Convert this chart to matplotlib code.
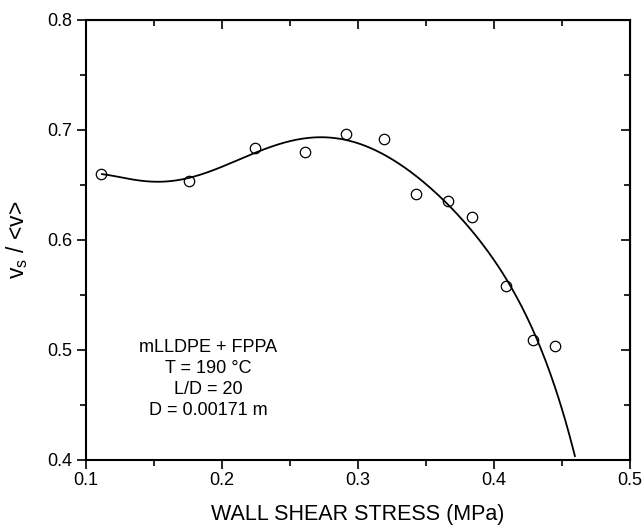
import numpy as np
import matplotlib.pyplot as plt
from matplotlib.ticker import MultipleLocator, FormatStrFormatter

plt.rcParams['font.family'] = ['Liberation Sans', 'DejaVu Sans']

stress = [0.111, 0.176, 0.224, 0.261, 0.291, 0.319, 0.343, 0.366, 0.384, 0.409, 0.429, 0.445]
vs_ratio = [0.660, 0.654, 0.684, 0.680, 0.696, 0.692, 0.642, 0.635, 0.621, 0.558, 0.509, 0.504]

# fitted curve
curve_x = [0.1118, 0.1368, 0.1588, 0.1760, 0.1980, 0.2250, 0.2471, 0.2721, 0.2917,
           0.3162, 0.3407, 0.3652, 0.3897, 0.4093, 0.4301, 0.4461, 0.4596]
curve_y = [0.6597, 0.6552, 0.6530, 0.6552, 0.6666, 0.6803, 0.6877, 0.6934, 0.6925,
           0.6788, 0.6575, 0.6348, 0.6045, 0.5591, 0.5121, 0.4666, 0.4018]

coef = np.polyfit(curve_x, curve_y, 7)
xfit = np.linspace(curve_x[0], curve_x[-1], 400)
yfit = np.polyval(coef, xfit)

fig = plt.figure(figsize=(6.44, 5.26), dpi=100)
ax = fig.add_axes([0.1335, 0.1255, 0.8445, 0.8365])

ax.plot(xfit, yfit, color='black', lw=1.3)
ax.plot(stress, vs_ratio, 'o', ms=7.5, mfc='none', mec='black', mew=0.9)

ax.set_xlim(0.1, 0.5)
ax.set_ylim(0.4, 0.8)
for axis in (ax.xaxis, ax.yaxis):
    axis.set_major_locator(MultipleLocator(0.1))
    axis.set_minor_locator(MultipleLocator(0.05))
    axis.set_major_formatter(FormatStrFormatter('%.1f'))
ax.tick_params(which='both', direction='out', width=1.2, labelsize=13, top=False, right=False)
ax.tick_params(which='major', length=6.5)
ax.tick_params(which='minor', length=4)
ax.tick_params(axis='x', pad=2)
for s in ax.spines.values():
    s.set_linewidth(1.5)

# inward ticks on top and right
sec = ax.secondary_xaxis('top')
sec.xaxis.set_major_locator(MultipleLocator(0.1))
sec.xaxis.set_minor_locator(MultipleLocator(0.05))
sec.tick_params(which='both', direction='in', width=1.2, labeltop=False)
sec.tick_params(which='major', length=6.5)
sec.tick_params(which='minor', length=4)
secy = ax.secondary_yaxis('right')
secy.yaxis.set_major_locator(MultipleLocator(0.1))
secy.yaxis.set_minor_locator(MultipleLocator(0.05))
secy.tick_params(which='both', direction='in', width=1.2, labelright=False)
secy.tick_params(which='major', length=6.5)
secy.tick_params(which='minor', length=4)

ax.set_xlabel('WALL SHEAR STRESS (MPa)', fontsize=15.5, labelpad=11)
ax.set_ylabel(r'v$_\mathregular{s}$ / <v>', fontsize=16.5, labelpad=12)

ax.text(0.19, 0.4736, 'mLLDPE + FPPA\nT = 190 \u00b0C\nL/D = 20\nD = 0.00171 m',
        ha='center', va='center', fontsize=13, linespacing=1.3)

fig.savefig('out.png', dpi=100)
